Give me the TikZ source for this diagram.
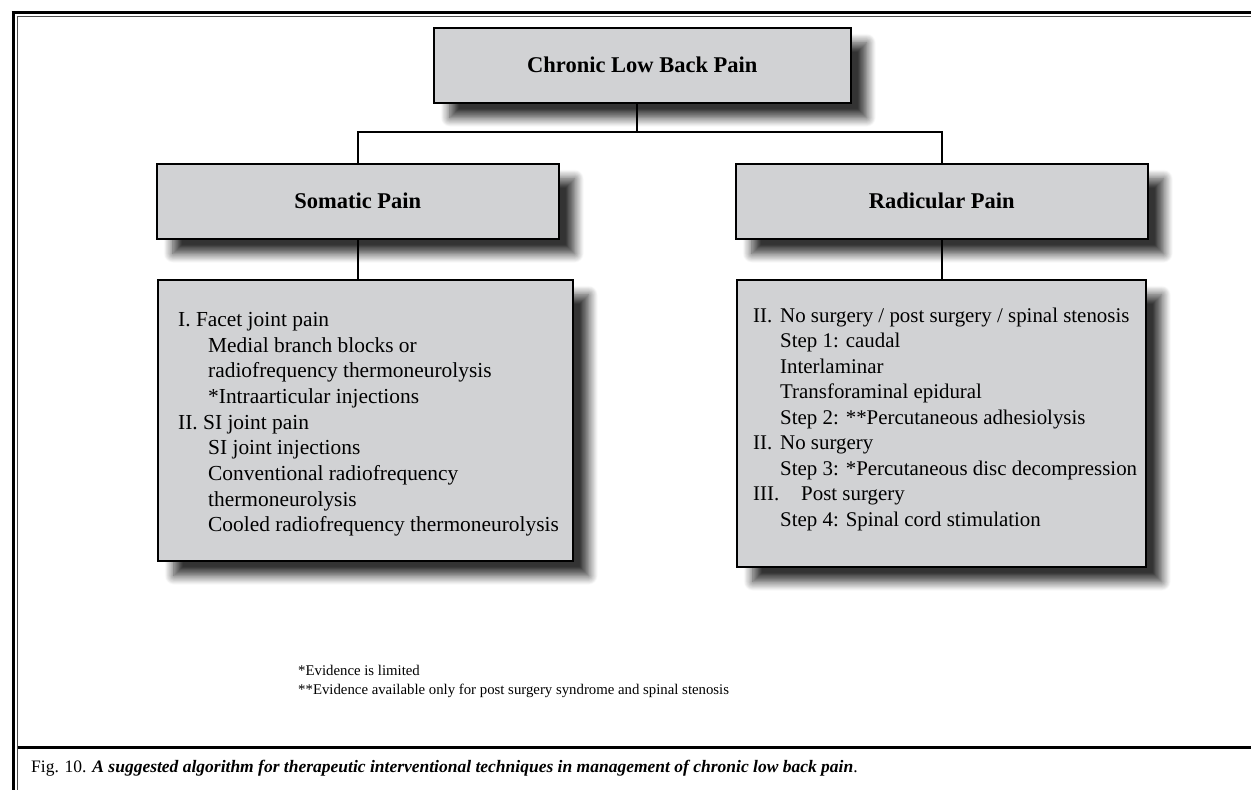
\documentclass[tikz,border=0pt]{standalone}
\usepackage{fontspec}
\setmainfont{Liberation Serif}
\usetikzlibrary{shadows.blur}
\definecolor{boxgray}{HTML}{D1D2D4}
\tikzset{
  diabox/.style={draw=black, line width=1.6pt, fill=boxgray, inner sep=0pt,
    blur shadow={shadow xshift=16pt, shadow yshift=-15pt, shadow blur radius=9pt, shadow blur steps=12, shadow opacity=80}},
  titletext/.style={font=\fontsize{22.5}{27}\selectfont\bfseries},
  bodytext/.style={font=\fontsize{21.4}{25.7}\selectfont, align=left, inner sep=0pt, anchor=north west},
  radtext/.style={font=\fontsize{20.9}{25.5}\selectfont, align=left, inner sep=0pt, anchor=north west},
  notetext/.style={anchor=west, inner sep=0pt, font=\fontsize{14.8}{18}\selectfont},
  conn/.style={line width=1.8pt, black},
  frameline/.style={line width=3pt, black},
  thinline/.style={line width=1.1pt, black!70}
}
\newcommand{\ind}{\hspace*{30pt}}
\newcommand{\rind}{\hspace*{27pt}}
\begin{document}
\begin{tikzpicture}[x=1pt,y=-1pt]
\path[use as bounding box] (0,0) rectangle (1251,790);
% frame
\draw[frameline] (13,11) -- (13,790);
\draw[thinline] (17.2,16) -- (17.2,790);
\draw[frameline] (11.5,12.5) -- (1251,12.5);
\draw[thinline] (16.7,16.5) -- (1251,16.5);
\draw[line width=2.6pt] (17.7,747.5) -- (1251,747.5);
% boxes
\node[diabox, minimum width=417pt, minimum height=75pt, anchor=north west, titletext] (top) at (433,27) {Chronic Low Back Pain};
\node[diabox, minimum width=402pt, minimum height=75pt, anchor=north west, titletext] (som) at (156,163) {Somatic Pain};
\node[diabox, minimum width=412pt, minimum height=75pt, anchor=north west, titletext] (rad) at (735,163) {Radicular Pain};
\node[diabox, minimum width=415pt, minimum height=281pt, anchor=north west] (somc) at (157,279) {};
\node[diabox, minimum width=409pt, minimum height=287pt, anchor=north west] (radc) at (736,279) {};
% connectors
\coordinate (junc) at (637,132);
\draw[conn] (top.south -| junc) -- (junc);
\draw[conn] (som.north) |- (junc) -| (rad.north);
\draw[conn] (som.south) -- (som.south |- somc.north);
\draw[conn] (rad.south) -- (rad.south |- radc.north);
% box texts
\node[bodytext] (somt) at (178,312) {I. Facet joint pain\\
\ind Medial branch blocks or\\
\ind radiofrequency thermoneurolysis\\
\ind *Intraarticular injections\\
II. SI joint pain\\
\ind SI joint injections\\
\ind Conventional radiofrequency\\
\ind thermoneurolysis\\
\ind Cooled radiofrequency thermoneurolysis};
\node[radtext] (radt) at (753,307.5) {\makebox[27pt][l]{II.}No surgery / post surgery / spinal stenosis\\
\rind Step 1: caudal\\
\rind Interlaminar\\
\rind Transforaminal epidural\\
\rind Step 2: **Percutaneous adhesiolysis\\
\makebox[27pt][l]{II.}No surgery\\
\rind Step 3: *Percutaneous disc decompression\\
\makebox[48pt][l]{III.}Post surgery\\
\rind Step 4: Spinal cord stimulation};
% footnotes
\node[notetext] (fn1) at (298,670) {*Evidence is limited};
\node[notetext] (fn2) at (298,691) {**Evidence available only for post surgery syndrome and spinal stenosis};
% caption
\node[anchor=west, inner sep=0pt, font=\fontsize{17.5}{21}\selectfont] (cap) at (31,768) {Fig. 10. \textit{\textbf{A suggested algorithm for therapeutic interventional techniques in management of  chronic low back pain}}.};
\end{tikzpicture}
\end{document}
